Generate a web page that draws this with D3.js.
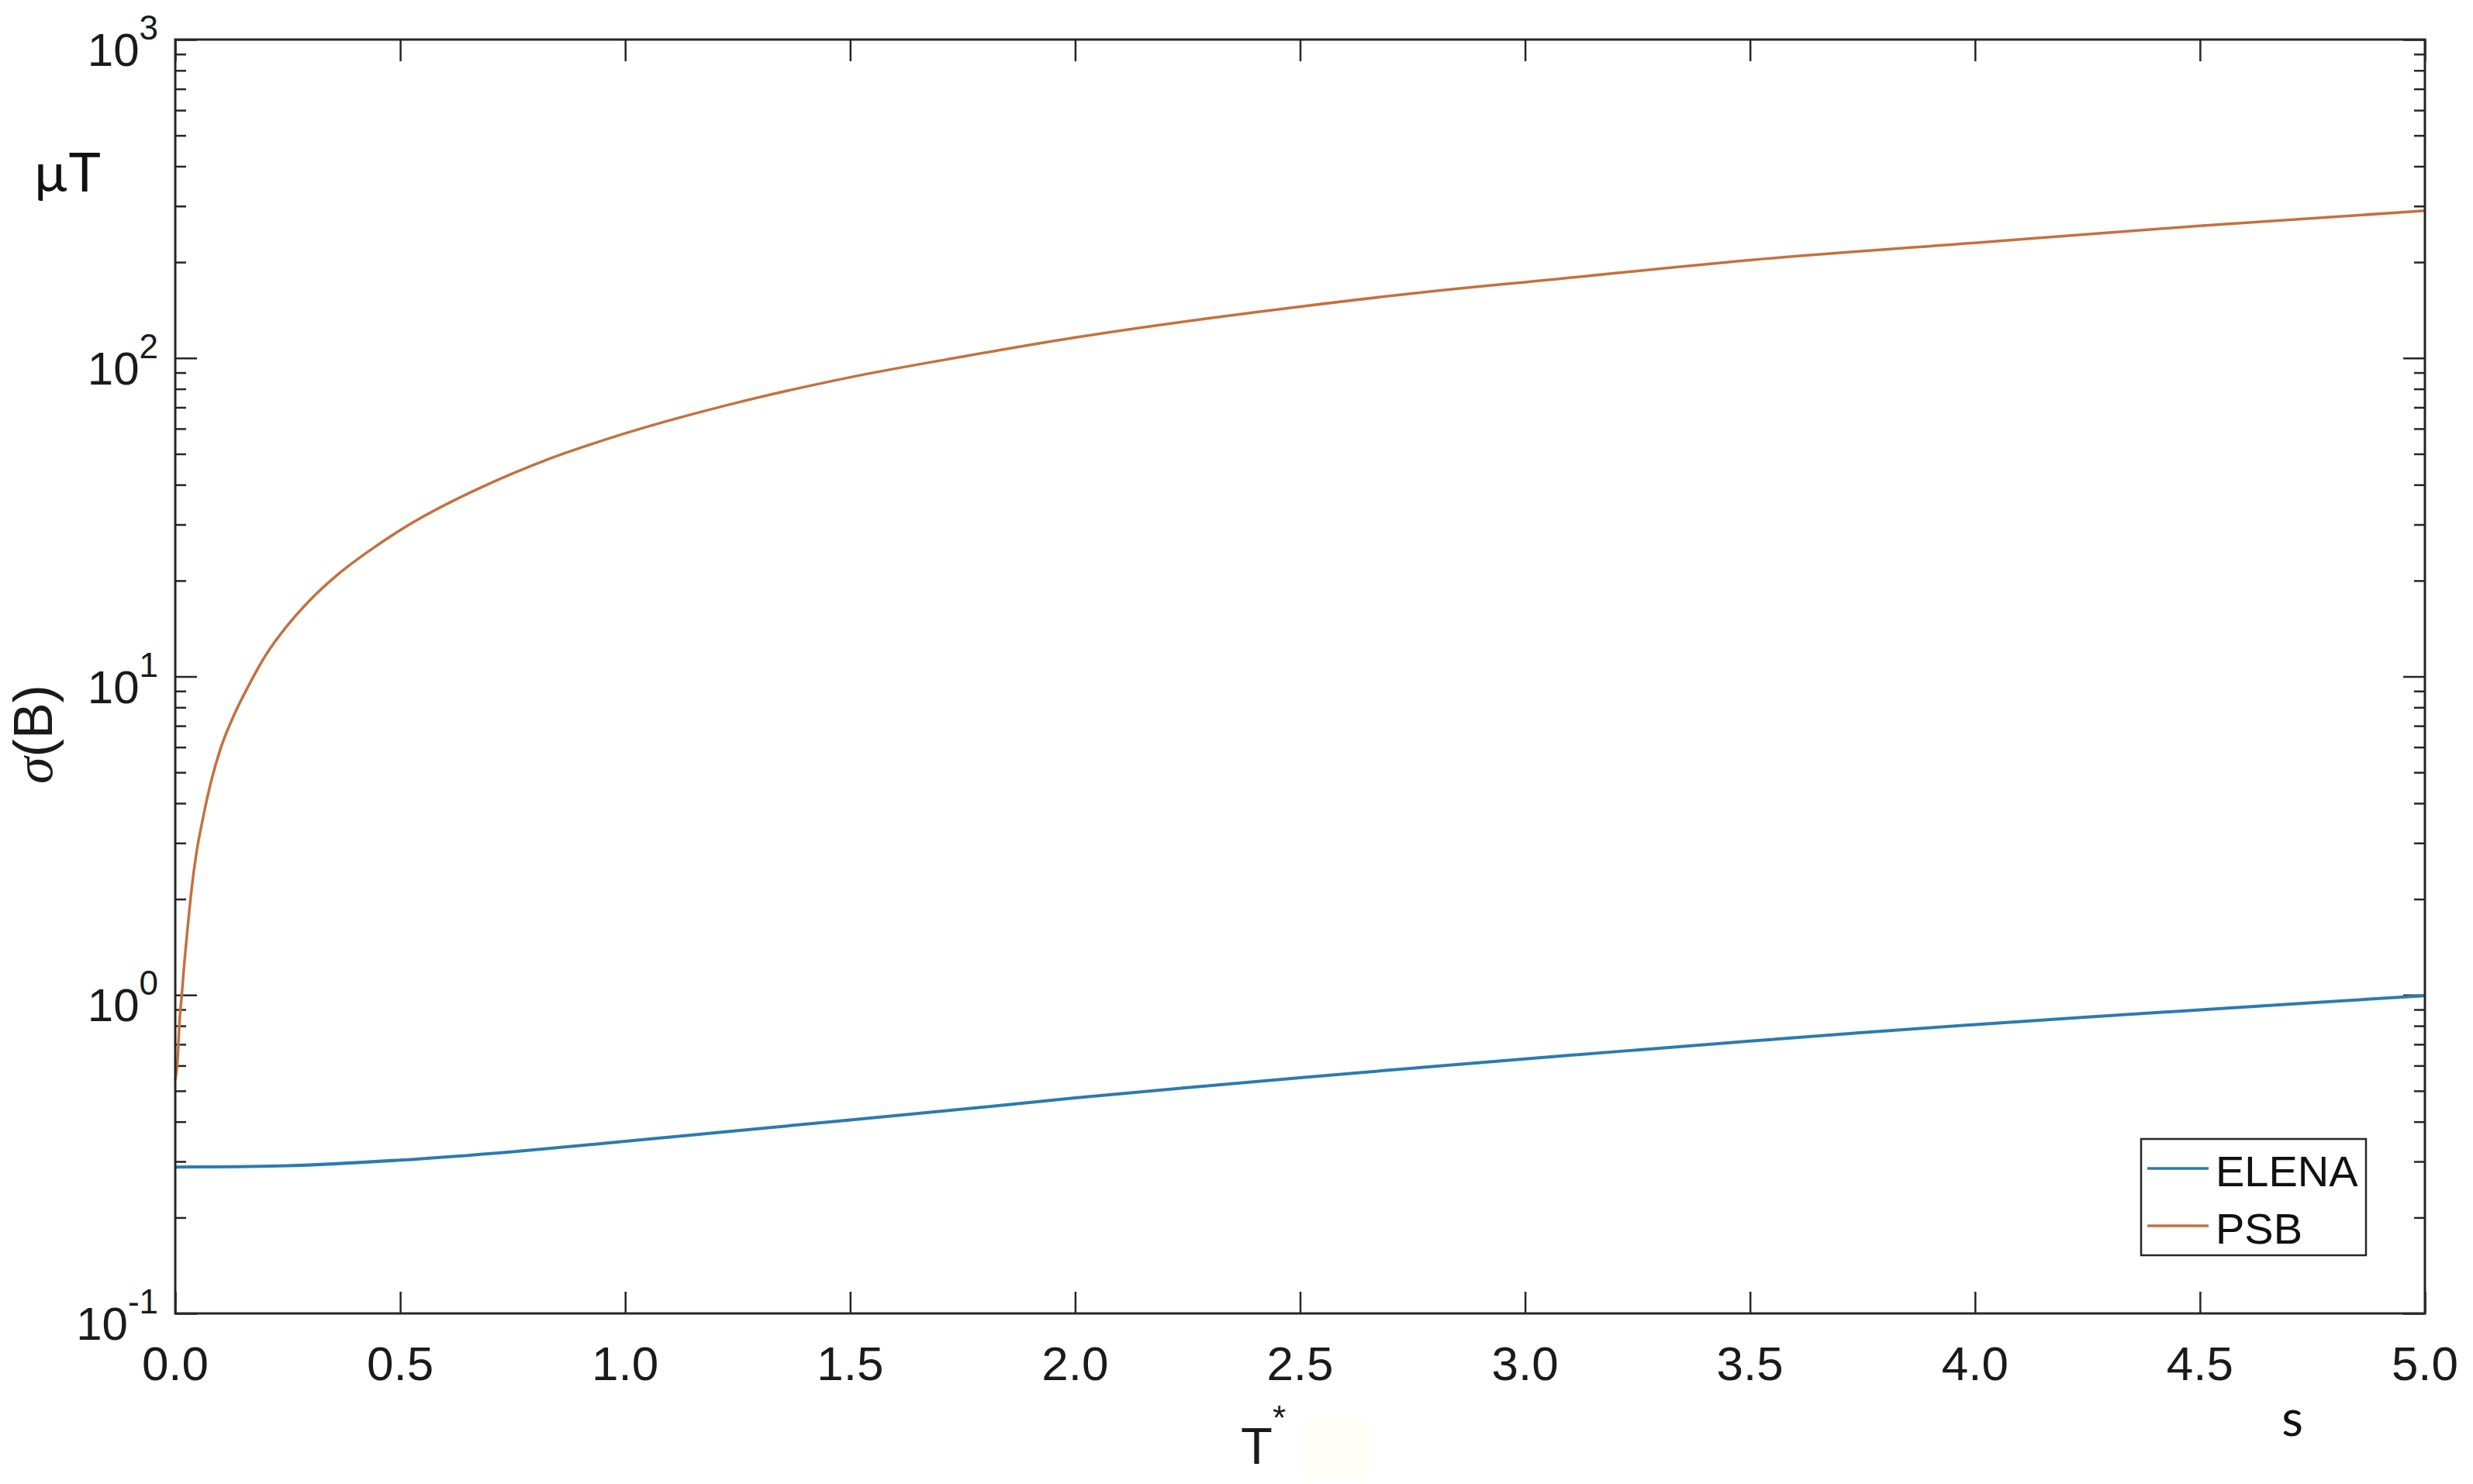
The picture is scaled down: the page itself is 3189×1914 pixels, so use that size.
<!DOCTYPE html>
<html>
<head>
<meta charset="utf-8">
<script src="https://cdn.jsdelivr.net/npm/d3@7"></script>
<style>
  html, body { margin: 0; padding: 0; background: #fff; }
  svg { display: block; }
</style>
</head>
<body>
<svg id="chart" width="3189" height="1914"></svg>
<script>
// ---- data ----
const elenaT = [0, 0.25, 0.5, 0.75, 1.0, 1.25, 1.5, 1.75, 2.0, 2.25, 2.5, 2.75, 3.0, 3.25, 3.5, 3.75, 4.0, 4.25, 4.5, 4.75, 5.0];
const elenaB = [0.288, 0.291, 0.303, 0.322, 0.347, 0.375, 0.405, 0.438, 0.475, 0.512, 0.550, 0.589, 0.630, 0.672, 0.716, 0.762, 0.807, 0.852, 0.898, 0.946, 0.995];
const psbT = [0, 0.005, 0.01, 0.0145, 0.02, 0.027, 0.035, 0.047, 0.06, 0.08, 0.1, 0.1275, 0.162, 0.2, 0.25, 0.3, 0.363, 0.438, 0.5, 0.553, 0.6, 0.679, 0.75, 0.822, 0.9, 1.0, 1.25, 1.5, 1.75, 2.0, 2.5, 2.885, 3.0, 3.5, 4.0, 4.5, 5.0];
const psbB = [0.54, 0.62, 0.85, 1.0, 1.25, 1.6, 2.07, 2.79, 3.5, 4.7, 5.9, 7.4, 9.3, 11.6, 14.5, 17.4, 21.0, 25.2, 28.8, 31.9, 34.6, 39.2, 43.4, 47.7, 52.2, 58, 72.5, 87, 101, 116, 145, 167, 173, 203, 230, 260, 290];
const seriesNames = ["ELENA", "PSB"];
const xTicks = [0, 0.5, 1.0, 1.5, 2.0, 2.5, 3.0, 3.5, 4.0, 4.5, 5.0];
const xTickLabels = ["0.0", "0.5", "1.0", "1.5", "2.0", "2.5", "3.0", "3.5", "4.0", "4.5", "5.0"];
const yMajor = [0.1, 1, 10, 100, 1000];
const yExponents = ["-1", "0", "1", "2", "3"];

// ---- layout ----
const L = 226, R = 3127, T = 51, B = 1694;
const axisColor = "#262626";
const colors = ["#2b7bb0", "#c4713f"];

const svg = d3.select("#chart");
const x = d3.scaleLinear().domain([0, 5]).range([L, R]);
const y = d3.scaleLog().domain([0.1, 1000]).range([B, T]);

const yMinor = [];
for (let e = -1; e < 3; e++) for (let m = 2; m <= 9; m++) yMinor.push(m * Math.pow(10, e));

function styleAxis(g) {
  g.select(".domain").remove();
  g.selectAll(".tick line").attr("stroke", axisColor).attr("stroke-width", 2.5);
  g.selectAll(".tick text").remove();
}

// y ticks left (inward)
svg.append("g").attr("transform", `translate(${L},0)`)
  .call(d3.axisRight(y).tickValues(yMajor).tickSize(28).tickFormat(""))
  .call(styleAxis);
svg.append("g").attr("transform", `translate(${L},0)`)
  .call(d3.axisRight(y).tickValues(yMinor).tickSize(14).tickFormat(""))
  .call(styleAxis);
// y ticks right (inward)
svg.append("g").attr("transform", `translate(${R},0)`)
  .call(d3.axisLeft(y).tickValues(yMajor).tickSize(28).tickFormat(""))
  .call(styleAxis);
svg.append("g").attr("transform", `translate(${R},0)`)
  .call(d3.axisLeft(y).tickValues(yMinor).tickSize(14).tickFormat(""))
  .call(styleAxis);
// x ticks bottom & top (inward)
svg.append("g").attr("transform", `translate(0,${B})`)
  .call(d3.axisTop(x).tickValues(xTicks).tickSize(28).tickFormat(""))
  .call(styleAxis);
svg.append("g").attr("transform", `translate(0,${T})`)
  .call(d3.axisBottom(x).tickValues(xTicks).tickSize(28).tickFormat(""))
  .call(styleAxis);

// lines
const line = d3.line().x(d => x(d[0])).y(d => y(d[1])).curve(d3.curveMonotoneX);
const elena = elenaT.map((t, i) => [t, elenaB[i]]);
const psb = psbT.map((t, i) => [t, psbB[i]]);
svg.append("path").datum(elena).attr("d", line)
  .attr("fill", "none").attr("stroke", colors[0]).attr("stroke-width", 4);
svg.append("path").datum(psb).attr("d", line)
  .attr("fill", "none").attr("stroke", colors[1]).attr("stroke-width", 3.5);

// frame
svg.append("rect").attr("x", L).attr("y", T).attr("width", R - L).attr("height", B - T)
  .attr("fill", "none").attr("stroke", axisColor).attr("stroke-width", 3);

// x tick labels
svg.append("g").selectAll("text").data(xTicks).join("text")
  .attr("x", d => x(d)).attr("y", 1780)
  .attr("text-anchor", "middle")
  .attr("font-family", "Liberation Sans, Arial, sans-serif")
  .attr("font-size", 62).attr("fill", "#1a1a1a")
  .text((d, i) => xTickLabels[i]);

// y tick labels with superscripts
const yl = svg.append("g").selectAll("text").data(yMajor).join("text")
  .attr("x", 204).attr("y", d => y(d) + 34)
  .attr("text-anchor", "end")
  .attr("font-family", "Liberation Sans, Arial, sans-serif")
  .attr("font-size", 60).attr("fill", "#1a1a1a");
yl.append("tspan").text("10");
yl.append("tspan").attr("dy", -34).attr("font-size", 44).text((d, i) => yExponents[i]);

// axis labels
svg.append("text")
  .attr("transform", "translate(67,947) rotate(-90)")
  .attr("text-anchor", "middle")
  .attr("font-family", "Liberation Sans, Arial, sans-serif")
  .attr("font-size", 70).attr("fill", "#1a1a1a")
  .call(t => {
    t.append("tspan").attr("font-family", "Liberation Serif, Times New Roman, serif").attr("font-style", "italic").text("σ");
    t.append("tspan").text("(B)");
  });

// faint box next to T*
svg.append("rect").attr("x", 1677).attr("y", 1830).attr("width", 90).attr("height", 80)
  .attr("fill", "#fffef7");

const xl = svg.append("text").attr("x", 1600).attr("y", 1888)
  .attr("font-family", "Liberation Sans, Arial, sans-serif")
  .attr("font-size", 67).attr("fill", "#1a1a1a");
xl.append("tspan").text("T");
xl.append("tspan").attr("dy", -44).attr("font-size", 44).text("*");

svg.append("text").attr("x", 43).attr("y", 247)
  .attr("font-family", "Lato, sans-serif")
  .attr("font-size", 70).attr("fill", "#111")
  .text("µT");
svg.append("text").attr("x", 2956).attr("y", 1852)
  .attr("text-anchor", "middle")
  .attr("font-family", "Lato, sans-serif")
  .attr("font-size", 64).attr("fill", "#111")
  .text("s");

// legend
const lg = svg.append("g");
lg.append("rect").attr("x", 2761).attr("y", 1469).attr("width", 290).attr("height", 150)
  .attr("fill", "#fff").attr("stroke", axisColor).attr("stroke-width", 2.5);
const legY = [1507, 1581];
seriesNames.forEach((name, i) => {
  lg.append("line").attr("x1", 2769).attr("x2", 2848).attr("y1", legY[i]).attr("y2", legY[i])
    .attr("stroke", colors[i]).attr("stroke-width", 3.5);
  lg.append("text").attr("x", 2857).attr("y", legY[i] + 23)
    .attr("font-family", "Liberation Sans, Arial, sans-serif")
    .attr("font-size", 56).attr("fill", "#111")
    .text(name);
});
</script>
</body>
</html>
